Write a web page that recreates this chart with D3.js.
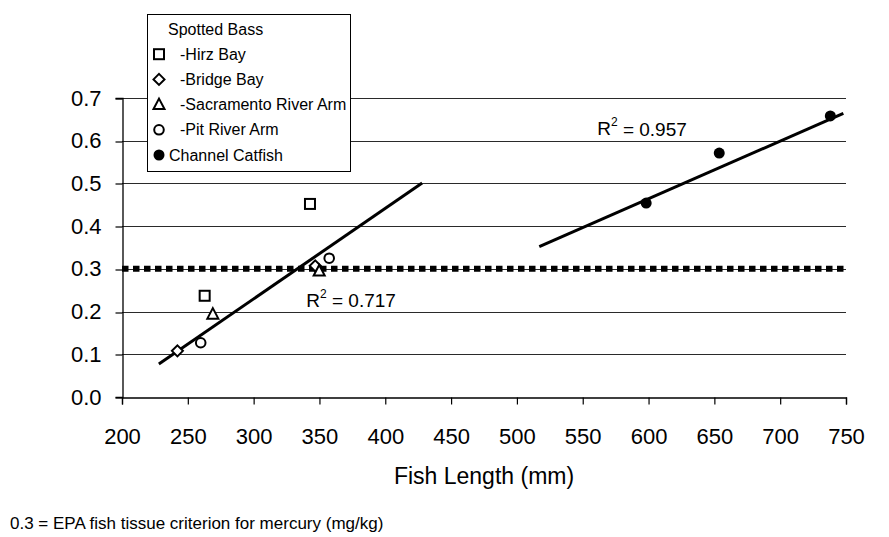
<!DOCTYPE html>
<html>
<head>
<meta charset="utf-8">
<script src="https://cdn.jsdelivr.net/npm/d3@7"></script>
<style>
  html, body { margin: 0; padding: 0; background: #fff; }
  svg { display: block; font-family: "Liberation Sans", Arial, sans-serif; }
</style>
</head>
<body>
<svg id="chart" width="889" height="537"></svg>
<script>
// ---- Data ----
const hirzBay      = [[262.8, 0.237], [342.8, 0.452]];
const bridgeBay    = [[242.1, 0.108], [346.8, 0.307]];
const sacramento   = [[269.0, 0.194], [349.8, 0.295]];
const pitRiver     = [[259.8, 0.127], [357.4, 0.325]];
const catfish      = [[598.2, 0.454], [653.7, 0.571], [738.1, 0.658]];
const trendBass    = [[228, 0.077], [428, 0.501]];
const trendCatfish = [[517, 0.352], [748, 0.664]];
const criterion    = 0.3;
const r2Labels     = [{x: 340, y: 0.227, text: "0.717"}, {x: 561, y: 0.628, text: "0.957"}];
const xTicks = [200, 250, 300, 350, 400, 450, 500, 550, 600, 650, 700, 750];
const yTicks = [0.0, 0.1, 0.2, 0.3, 0.4, 0.5, 0.6, 0.7];
const legendItems = [
  {label: "Spotted Bass", symbol: null},
  {label: "-Hirz Bay", symbol: "square"},
  {label: "-Bridge Bay", symbol: "diamond"},
  {label: "-Sacramento River Arm", symbol: "triangle"},
  {label: "-Pit River Arm", symbol: "circle"},
  {label: "Channel Catfish", symbol: "filled"}
];

// ---- Layout ----
const svg = d3.select("#chart");
const plot = {left: 122, right: 846, top: 98, bottom: 397};
const x = d3.scaleLinear().domain([200, 750]).range([plot.left, plot.right]);
const y = d3.scaleLinear().domain([0, 0.7]).range([plot.bottom, plot.top]);

// gridlines
svg.append("g").selectAll("line").data(yTicks.filter(d => d > 0)).join("line")
  .attr("x1", plot.left).attr("x2", plot.right)
  .attr("y1", d => Math.round(y(d)) + 0.5).attr("y2", d => Math.round(y(d)) + 0.5)
  .attr("stroke", "#2a2a2a").attr("stroke-width", 1);

// axes
const fontSize = 22;
const xAxis = svg.append("g").attr("transform", `translate(0,${plot.bottom + 0.5})`)
  .call(d3.axisBottom(x).tickValues(xTicks).tickSize(7).tickPadding(24).tickFormat(d3.format("d")));
const yAxis = svg.append("g").attr("transform", `translate(${plot.left + 0.5},0)`)
  .call(d3.axisLeft(y).tickValues(yTicks).tickSize(7).tickPadding(14).tickFormat(d3.format(".1f")));
[xAxis, yAxis].forEach(a => {
  a.select(".domain").attr("stroke", "#000").attr("stroke-width", 1.3);
  a.selectAll(".tick line").attr("stroke", "#000").attr("stroke-width", 1.2);
  a.selectAll(".tick text").attr("fill", "#000").attr("font-size", fontSize)
    .attr("font-family", "Liberation Sans, Arial, sans-serif");
});
yAxis.selectAll(".tick line").attr("transform", d => `translate(0,${Math.round(y(d)) + 0.5 - y(d)})`);

// criterion dotted line
svg.append("line")
  .attr("x1", x(200)).attr("x2", x(750))
  .attr("y1", y(criterion)).attr("y2", y(criterion))
  .attr("stroke", "#000").attr("stroke-width", 6)
  .attr("stroke-dasharray", "6.5 4.5");

// trendlines
const line = d3.line().x(d => x(d[0])).y(d => y(d[1]));
[trendBass, trendCatfish].forEach(t => {
  svg.append("path").attr("d", line(t)).attr("fill", "none")
    .attr("stroke", "#000").attr("stroke-width", 3);
});

// markers
function drawSymbol(g, type, cx, cy) {
  if (type === "square") {
    g.append("rect").attr("x", cx - 5).attr("y", cy - 5).attr("width", 10).attr("height", 10)
      .attr("fill", "#fff").attr("stroke", "#000").attr("stroke-width", 2);
  } else if (type === "diamond") {
    g.append("path").attr("d", `M${cx},${cy - 5.5}L${cx + 5.5},${cy}L${cx},${cy + 5.5}L${cx - 5.5},${cy}Z`)
      .attr("fill", "#fff").attr("stroke", "#000").attr("stroke-width", 2);
  } else if (type === "triangle") {
    g.append("path").attr("d", `M${cx},${cy - 6}L${cx + 5.5},${cy + 4.5}L${cx - 5.5},${cy + 4.5}Z`)
      .attr("fill", "#fff").attr("stroke", "#000").attr("stroke-width", 2);
  } else if (type === "circle") {
    g.append("circle").attr("cx", cx).attr("cy", cy).attr("r", 4.8)
      .attr("fill", "#fff").attr("stroke", "#000").attr("stroke-width", 2);
  } else if (type === "filled") {
    g.append("circle").attr("cx", cx).attr("cy", cy).attr("r", 5.5).attr("fill", "#000");
  }
}
const mg = svg.append("g");
[[hirzBay, "square"], [bridgeBay, "diamond"], [sacramento, "triangle"], [pitRiver, "circle"], [catfish, "filled"]]
  .forEach(([data, type]) => data.forEach(d => drawSymbol(mg, type, x(d[0]), y(d[1]))));

// R² labels
r2Labels.forEach(r => {
  const t = svg.append("text").attr("x", x(r.x)).attr("y", y(r.y)).attr("dy", "0.35em")
    .attr("font-size", 19).attr("fill", "#000");
  t.append("tspan").text("R");
  t.append("tspan").attr("font-size", 12).attr("dy", "-0.75em").text("2");
  t.append("tspan").attr("dy", "0.5em").text(" = " + r.text);
});

// legend
const lg = svg.append("g");
const lx = 147, ly = 14, lw = 203, lh = 157;
lg.append("rect").attr("x", lx + 0.5).attr("y", ly + 0.5).attr("width", lw).attr("height", lh)
  .attr("fill", "#fff").attr("stroke", "#000").attr("stroke-width", 1);
const rowY = d3.scaleLinear().domain([0, legendItems.length - 1]).range([ly + 15, ly + lh - 16]);
legendItems.forEach((it, i) => {
  const cy = rowY(i);
  if (it.symbol) drawSymbol(lg, it.symbol, lx + 12, cy);
  lg.append("text")
    .attr("x", it.symbol === "filled" ? lx + 22 : (it.symbol ? lx + 33 : lx + 21))
    .attr("y", cy).attr("dy", "0.35em").attr("font-size", 16).attr("fill", "#000").text(it.label);
});

// axis title & note
svg.append("text").attr("x", (plot.left + plot.right) / 2).attr("y", 476).attr("dy", "0.35em")
  .attr("text-anchor", "middle").attr("font-size", 23).attr("fill", "#000").text("Fish Length (mm)");
svg.append("text").attr("x", 10).attr("y", 523).attr("dy", "0.35em")
  .attr("font-size", 17).attr("fill", "#000").text("0.3 = EPA fish tissue criterion for mercury (mg/kg)");
</script>
</body>
</html>
